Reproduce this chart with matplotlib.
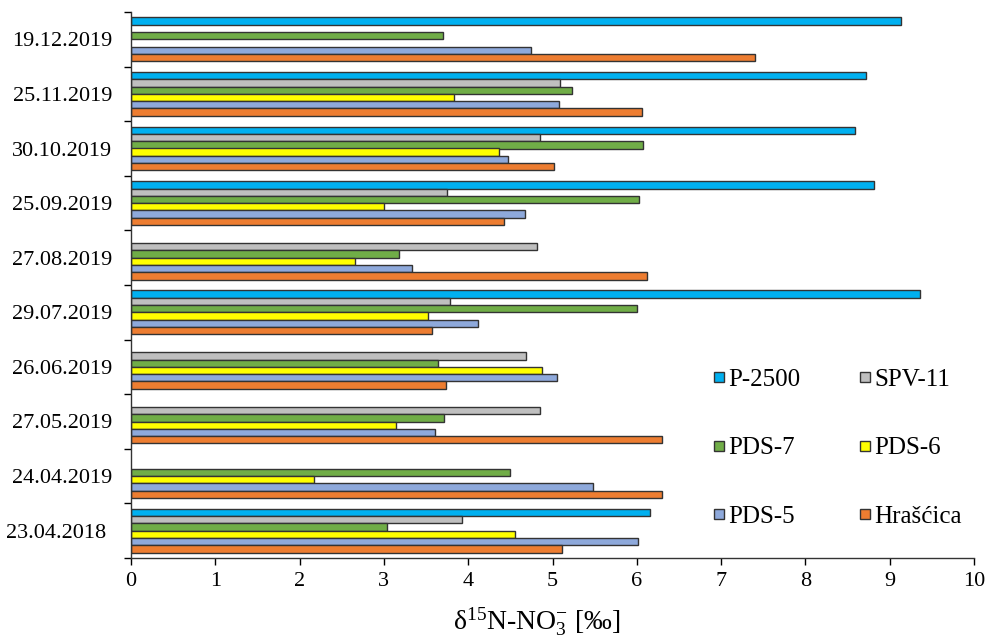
import matplotlib
matplotlib.use("Agg")
import matplotlib.pyplot as plt
from matplotlib.lines import Line2D
import numpy as np

# Sampling dates, bottom to top
dates = ["23.04.2018 ", "24.04.2019", "27.05.2019", "26.06.2019", "29.07.2019",
         "27.08.2019", "25.09.2019", "30.10.2019", "25.11.2019", "19.12.2019"]

# delta15N-NO3 values per site (None = not sampled)
p2500    = [6.16, None, None, None, 9.36, None, 8.81, 8.59, 8.72, 9.13]
spv11    = [3.93, None, 4.85, 4.69, 3.78, 4.82, 3.75, 4.85, 5.09, None]
pds7     = [3.04, 4.50, 3.71, 3.64, 6.00, 3.18, 6.03, 6.07, 5.23, 3.70]
pds6     = [4.55, 2.17, 3.14, 4.88, 3.52, 2.66, 3.00, 4.36, 3.83, None]
pds5     = [6.01, 5.48, 3.61, 5.05, 4.12, 3.33, 4.67, 4.47, 5.08, 4.74]
hrascica = [5.11, 6.30, 6.30, 3.74, 3.57, 6.12, 4.42, 5.02, 6.06, 7.40]

site_names = ["P-2500", "SPV-11", "PDS-7", "PDS-6", "PDS-5", "Hrašćica"]
site_values = [p2500, spv11, pds7, pds6, pds5, hrascica]
site_colors = ["#00B0F0", "#BFBFBF", "#70AD47", "#FFFF00", "#8EA9DB", "#ED7D31"]
edge = "#333333"

plt.rcParams["font.family"] = ["Liberation Serif", "DejaVu Serif"]
plt.rcParams["mathtext.fontset"] = "custom"
plt.rcParams["mathtext.rm"] = "Liberation Serif"
plt.rcParams["mathtext.it"] = "Liberation Serif:italic"

fig = plt.figure(figsize=(9.89, 6.39), dpi=100)
W, H = 989, 639
ax = fig.add_axes([131 / W, 1 - 558 / H, (974 - 131) / W, (558 - 12) / H])

n = len(site_names)
bar_h = 0.8 / n
y = np.arange(len(dates))
for i, (name, vals, col) in enumerate(zip(site_names, site_values, site_colors)):
    v = np.array([np.nan if a is None else a for a in vals], dtype=float)
    offs = (n / 2 - 0.5 - i) * bar_h
    b = ax.barh(y + offs, np.nan_to_num(v), height=bar_h, color=col,
                edgecolor=edge, linewidth=1.0, label=name)
    for patch, val in zip(b.patches, v):
        if np.isnan(val):
            patch.set_visible(False)

ax.set_xlim(0, 10)
ax.set_ylim(-0.5, len(dates) - 0.5)
ax.set_xticks(np.arange(0, 11, 1))
ax.set_yticks(y)
ax.set_yticklabels(dates)
ax.set_yticks(np.arange(-0.5, len(dates), 1), minor=True)
ax.tick_params(axis="y", which="major", length=0, pad=13.5, labelsize=16)
ax.tick_params(axis="y", which="minor", length=5, width=1, direction="out")
ax.tick_params(axis="x", which="major", length=5, width=1, direction="out",
               pad=5, labelsize=16)
for s in ("top", "right"):
    ax.spines[s].set_visible(False)
for s in ("left", "bottom"):
    ax.spines[s].set_linewidth(1.0)
    ax.spines[s].set_color(edge)

ax.set_xlabel(r"δ$^{15}$N-NO$_3^{-}$ [‰]", fontsize=20)
ax.xaxis.set_label_coords((537 - 131) / (974 - 131), -(622 - 558) / (558 - 12),
                          transform=ax.transAxes)
ax.xaxis.label.set_va("center")

# Small square keys, laid out row by row (matplotlib fills columns first)
keys = [Line2D([], [], linestyle="none", marker="s", markersize=6.5,
               markerfacecolor=c, markeredgecolor=edge, markeredgewidth=1.0)
        for c in site_colors]
order = [0, 2, 4, 1, 3, 5]
leg = ax.legend([keys[k] for k in order], [site_names[k] for k in order],
                ncol=2, loc="upper left",
                bbox_to_anchor=((712 - 131) / (974 - 131), (558 - 368) / (558 - 12)),
                frameon=False, fontsize=18, handlelength=0.55, handleheight=0.7,
                handletextpad=0.1, labelspacing=1.85, columnspacing=2.3,
                borderaxespad=0, borderpad=0)

fig.savefig("out.png", dpi=100)
